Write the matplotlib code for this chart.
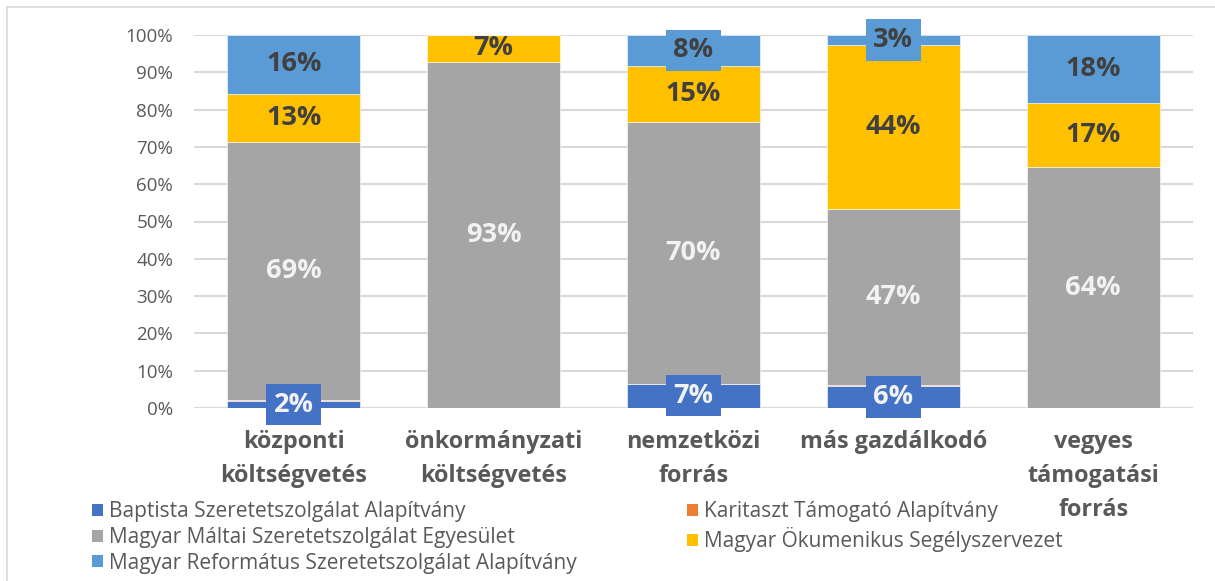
import numpy as np
import matplotlib.pyplot as plt
from matplotlib.patches import Patch
from matplotlib.lines import Line2D

plt.rcParams['font.family'] = ['Open Sans', 'DejaVu Sans']

# adatok (arányok, %)
kategoriak = ['központi\nköltségvetés', 'önkormányzati\nköltségvetés', 'nemzetközi\nforrás',
              'más gazdálkodó', 'vegyes\ntámogatási\nforrás']
sorozatok = ['Baptista Szeretetszolgálat Alapítvány', 'Karitaszt Támogató Alapítvány',
             'Magyar Máltai Szeretetszolgálat Egyesület', 'Magyar Ökumenikus Segélyszervezet',
             'Magyar Református Szeretetszolgálat Alapítvány']
baptista = [1.8, 0.0, 6.5, 5.9, 0.0]
karitasz = [0.3, 0.0, 0.0, 0.3, 0.0]
maltai = [69.3, 92.8, 70.2, 47.2, 64.5]
okumenikus = [12.8, 7.2, 15.0, 43.9, 17.3]
reformatus = [15.8, 0.0, 8.3, 2.7, 18.2]
cimkek = [['2%', '', '7%', '6%', ''],
          ['', '', '', '', ''],
          ['69%', '93%', '70%', '47%', '64%'],
          ['13%', '7%', '15%', '44%', '17%'],
          ['16%', '', '8%', '3%', '18%']]

szinek = ['#4472C4', '#ED7D31', '#A5A5A5', '#FFC000', '#5B9BD5']
betuszin = ['#F2F2F2', '#F2F2F2', '#F2F2F2', '#404040', '#404040']
dobozos = [True, False, False, False, True]

fig = plt.figure(figsize=(12.15, 5.81), dpi=100)
ax = fig.add_axes([194 / 1215, 1 - 408 / 581, (1193 - 194) / 1215, (408 - 35) / 581])

x = np.arange(len(kategoriak))
alap = np.zeros(len(kategoriak))
for i, ertek in enumerate([baptista, karitasz, maltai, okumenikus, reformatus]):
    ertek = np.array(ertek) / 100
    ax.bar(x, ertek, 0.665, bottom=alap, color=szinek[i], edgecolor='white', linewidth=0.4, zorder=2)
    for j in range(len(x)):
        if cimkek[i][j]:
            doboz = dict(boxstyle='square,pad=0.28', fc=szinek[i], ec='none') if dobozos[i] else None
            ax.text(x[j], alap[j] + ertek[j] / 2, cimkek[i][j], ha='center', va='center',
                    fontsize=19.5, fontweight='bold', color=betuszin[i], zorder=4, bbox=doboz)
    alap += ertek

ax.set_xlim(-0.5, 4.5)
ax.set_ylim(0, 1)
ax.set_yticks(np.arange(0, 1.01, 0.1))
ax.set_yticklabels([f'{v}%' for v in range(0, 101, 10)])
ax.yaxis.grid(True, color='#D9D9D9', linewidth=1.5, zorder=0)
ax.set_axisbelow(True)
for s in ax.spines.values():
    s.set_visible(False)
ax.tick_params(axis='y', length=0, pad=15, labelsize=13.5, labelcolor='#595959')
ax.set_xticks(x)
ax.set_xticklabels(kategoriak, fontsize=16.8, fontweight='bold', color='#595959',
                   linespacing=1.55, va='top')
ax.tick_params(axis='x', length=0, pad=16)

# jelmagyarázat: oszlopfolytonos sorrend
sorrend = [0, 2, 4, 1, 3]
kezelok = [Patch(facecolor=szinek[k], edgecolor='none') for k in sorrend]
fig.legend(kezelok, [sorozatok[k] for k in sorrend], ncol=2, loc='upper left',
           bbox_to_anchor=(82 / 1215, 1 - 491 / 581), frameon=False, fontsize=15,
           labelcolor='#595959', handlelength=0.5, handleheight=0.5, handletextpad=0.3,
           labelspacing=0.22, columnspacing=5.3, borderpad=0)

# keret
fig.add_artist(Line2D([7 / 1215, 1], [1 - 7 / 581] * 2, color='#D9D9D9', lw=1.2))
fig.add_artist(Line2D([7 / 1215] * 2, [0, 1 - 7 / 581], color='#D9D9D9', lw=1.2))

fig.savefig('out.png', dpi=100)
